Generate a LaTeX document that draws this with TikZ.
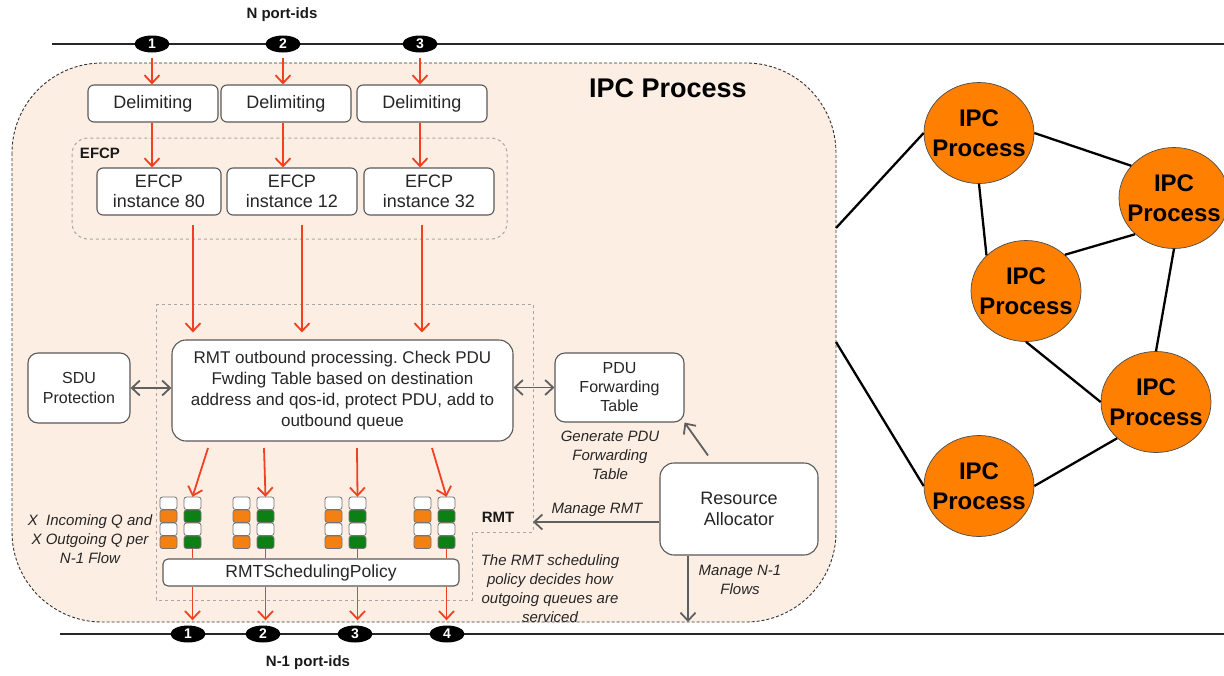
\documentclass[tikz,border=0pt]{standalone}
\usepackage{fontspec}
\setmainfont{Liberation Sans}
\usetikzlibrary{arrows.meta,shapes.geometric}

\definecolor{peach}{RGB}{253,238,227}
\definecolor{flowred}{RGB}{242,64,34}
\definecolor{qorange}{RGB}{245,128,18}
\definecolor{qgreen}{RGB}{12,128,20}
\definecolor{ipcorange}{RGB}{255,127,0}
\definecolor{ctrlgray}{RGB}{95,95,95}

\newcommand{\fsz}[2]{\fontsize{#1}{#2}\selectfont}
\frenchspacing

\tikzset{
  box/.style={draw=black!65, fill=white, rounded corners=6pt, align=center,
    inner sep=0pt, line width=1.1pt, text=black!85},
  flow/.style={draw=flowred, line width=1.8pt,
    -{Straight Barb[length=8pt,width=15pt]}},
  redline/.style={draw=flowred, line width=1.8pt},
  ctrl/.style={draw=ctrlgray, line width=1.8pt,
    -{Straight Barb[length=8pt,width=15pt]}},
  dctrl/.style={draw=ctrlgray, line width=1.8pt,
    {Straight Barb[length=8pt,width=15pt]}-{Straight Barb[length=8pt,width=15pt]}},
  wire/.style={draw=black!85, line width=1.5pt},
  group/.style={draw=black!35, dashed, line width=1pt},
  port/.style={ellipse, fill=black, minimum width=35pt, minimum height=17pt,
    inner sep=0pt, text=white, font=\bfseries\fsz{14}{14}},
  cell/.style={draw=black!55, line width=0.8pt, rounded corners=2.5pt},
  qcol/.style={rectangle, minimum width=17pt, minimum height=52pt, inner sep=0pt},
  ipc/.style={ellipse, fill=ipcorange, draw=black!70, line width=0.7pt,
    minimum width=110pt, minimum height=101pt, inner sep=0pt},
  ipctext/.style={align=center, font=\bfseries\fsz{24}{30}, text=black},
  note/.style={font=\itshape\fsz{15}{19}, align=center, text=black!85},
  head/.style={font=\bfseries\fsz{15}{18}, text=black!90},
  link/.style={draw=black, line width=2.3pt},
}

\begin{document}
\begin{tikzpicture}[x=1pt,y=-1pt]
  \useasboundingbox (0,0) rectangle (1224,675);

  % the IPC process body
  \draw[fill=peach, draw=black!80, densely dashed, line width=0.9pt,
    rounded corners=90pt] (12,63) rectangle (836,622);
  \node[font=\bfseries\fsz{27}{30}] (title) at (668,88) {IPC Process};

  % port-id lines
  \coordinate (tl) at (52,44);
  \coordinate (tr) at (1224,44);
  \coordinate (bl) at (60,634);
  \coordinate (br) at (1224,634);
  \draw[wire] (tl) -- (tr);
  \draw[wire] (bl) -- (br);
  \node[head] (ntitle) at (282,15) {N port-ids};
  \node[head] (n1title) at (308,663) {N-1 port-ids};

  \foreach \i/\x in {1/152,2/283,3/420}
    \node[port] (np\i) at (\x,44) {\i};
  \foreach \i/\x in {1/188,2/263,3/355,4/447}
    \node[port] (bp\i) at (\x,634) {\i};

  % delimiting and EFCP
  \draw[group, rounded corners=16pt] (72,138) rectangle (507,239);
  \node[head] (efcp) at (100,153) {EFCP};

  \foreach \i/\x in {1/153,2/286,3/422}
    \node[box, minimum width=130pt, minimum height=37pt, font=\fsz{18}{20}]
      (dl\i) at (\x,103.5) {Delimiting};
  \foreach \i/\x/\w/\n in {1/159/124/80,2/292/130/12,3/429/130/32}
    \node[box, minimum width=\w pt, minimum height=47pt, font=\fsz{18}{20}]
      (ef\i) at (\x,191.5) {EFCP\\instance \n};

  \foreach \i in {1,2,3} {
    \draw[flow, shorten <=5pt] (np\i) -- (np\i |- dl\i.north);
    \draw[flow] (dl\i.south -| np\i) -- (ef\i.north -| np\i);
  }

  % RMT
  \draw[group] (156,304) -- (533,304) -- (533,532) -- (472,532)
    -- (472,600) -- (156,600) -- cycle;
  \node[head] (rmtlabel) at (498,517) {RMT};

  \node[box, rounded corners=14pt, minimum width=341pt, minimum height=101pt,
    font=\fsz{17}{21}] (rmt) at (342.5,390.5)
    {RMT outbound processing. Check PDU\\Fwding Table based on destination\\
     address and qos-id, protect PDU, add to\\outbound queue};

  \foreach \i/\x in {1/193,2/302,3/422} {
    \coordinate (ea\i) at (\x,225);
    \draw[flow, shorten >=7pt] (ea\i) -- (ea\i |- rmt.north);
  }

  \node[box, rounded corners=10pt, minimum width=102pt, minimum height=70pt,
    font=\fsz{16}{20}] (sdu) at (79,388) {SDU\\Protection};
  \node[box, rounded corners=10pt, minimum width=129pt, minimum height=69pt,
    font=\fsz{16}{19}] (pdu) at (619.5,387.5) {PDU\\Forwarding\\Table};
  \node[box, rounded corners=14pt, minimum width=158pt, minimum height=92pt,
    font=\fsz{18}{21}] (ra) at (739,509) {Resource\\Allocator};

  \draw[dctrl] (sdu.east) -- (sdu.east -| rmt.west);
  \draw[dctrl] (rmt.east |- pdu.west) -- (pdu.west);
  \draw[ctrl] ([xshift=-31pt,yshift=7pt]ra.north) -- (pdu.south east);
  \node[note] (gen) at (610,455) {Generate PDU\\Forwarding\\Table};

  \coordinate (rmtedge) at (533,522);
  \draw[ctrl] (ra.west |- rmtedge) -- (rmtedge);
  \node[note] (mrmt) at (597,510) {Manage RMT};

  \coordinate (nflow) at (688,622);
  \draw[ctrl] (ra.south -| nflow) -- (nflow);
  \node[note] (mflow) at (740,580) {Manage N-1\\Flows};

  \node[note] (schednote) at (550,589)
    {The RMT scheduling\\policy decides how\\outgoing queues are\\serviced};
  \node[note] (qnote) at (90,539) {X~ Incoming Q and\\X Outgoing Q per\\N-1 Flow};

  % incoming / outgoing queues
  \foreach \i/\x in {1/160,2/233,3/325,4/414} {
    \foreach \c [count=\k from 0] in {white,qorange,white,qorange}
      \draw[cell, fill=\c] (\x,{497+13*\k}) rectangle ++(17,12.5);
    \foreach \c [count=\k from 0] in {white,qgreen,white,qgreen}
      \draw[cell, fill=\c] (\x+24,{497+13*\k}) rectangle ++(17,12.5);
    \node[qcol] (oq\i) at (\x+32.5,523) {};
  }

  \foreach \i/\x in {1/208,2/264,3/357,4/432} {
    \coordinate (rq\i) at (\x,448);
    \draw[flow] (rq\i) -- (oq\i.north);
  }

  \node[box, rounded corners=5pt, minimum width=296pt, minimum height=27pt,
    font=\fsz{17.5}{20}] (sched) at (311,572.5) {RMTSchedulingPolicy};

  \foreach \i in {1,...,4} {
    \draw[redline] (oq\i.south) -- (oq\i |- sched.north);
    \draw[flow, shorten >=5pt] (oq\i |- sched.south) -- (oq\i |- bp\i.north);
  }

  % neighbouring IPC processes
  \node[ipc, label={[ipctext]center:{IPC\\Process}}] (ipc1) at (979,133) {};
  \node[ipc, label={[ipctext]center:{IPC\\Process}}] (ipc2) at (1174,198) {};
  \node[ipc, label={[ipctext]center:{IPC\\Process}}] (ipc3) at (1026,291) {};
  \node[ipc, label={[ipctext]center:{IPC\\Process}}] (ipc4) at (1156,402) {};
  \node[ipc, label={[ipctext]center:{IPC\\Process}}] (ipc5) at (979,486) {};

  \coordinate (wa) at (836,228);
  \coordinate (wb) at (836,342);
  \draw[link] (wa) -- (ipc1.west);
  \draw[link] (wb) -- (ipc5.west);
  \draw[link] (ipc1.east) -- (ipc2.143);
  \draw[link] (ipc1.south) -- (ipc3.138);
  \draw[link] (ipc3.43) -- (ipc2.223);
  \draw[link] (ipc2.south) -- (ipc4.north);
  \draw[link] (ipc3.south) -- (ipc4.west);
  \draw[link] (ipc4.223) -- (ipc5.east);
\end{tikzpicture}
\end{document}
